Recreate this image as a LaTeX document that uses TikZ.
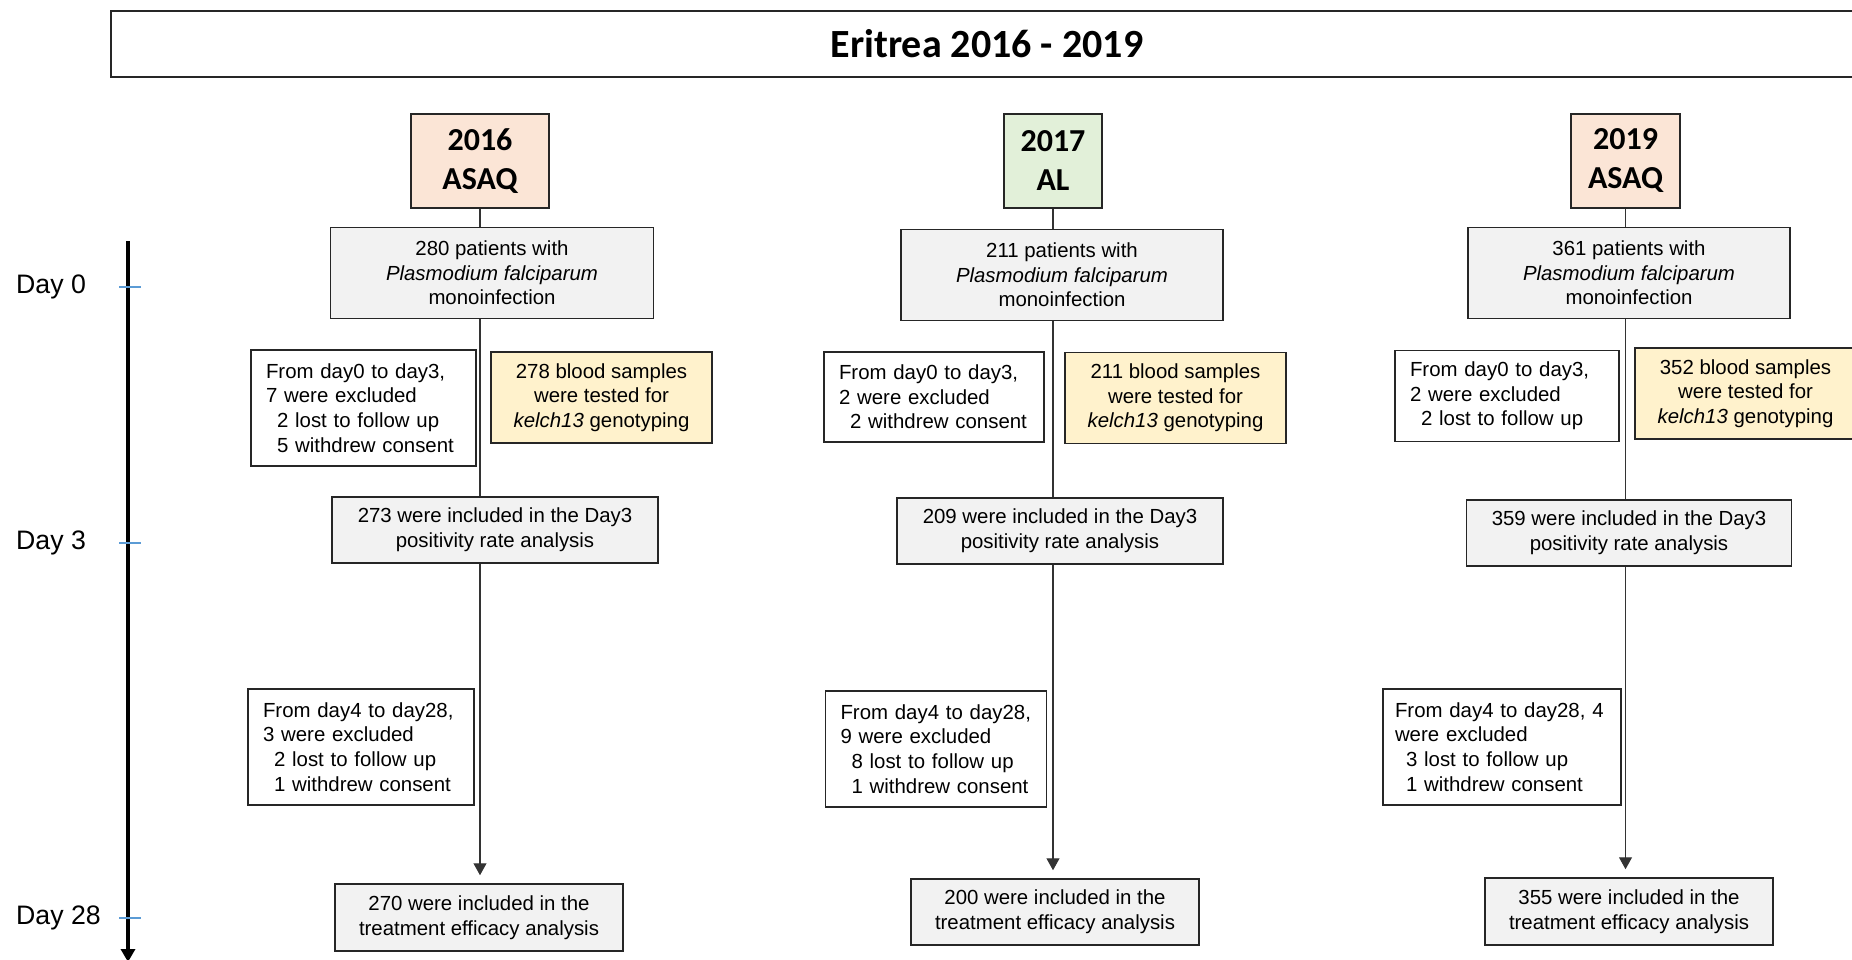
\documentclass[tikz,border=0pt]{standalone}
\usepackage{fontspec}
\setmainfont{Liberation Sans}
\newfontfamily\calibri{Carlito}
\definecolor{boxgray}{RGB}{242,242,242}
\definecolor{asaqpeach}{RGB}{251,229,214}
\definecolor{algreen}{RGB}{226,240,217}
\definecolor{kelyellow}{RGB}{255,242,204}
\definecolor{tickblue}{RGB}{91,155,213}
\newcommand{\bodyfont}{\fontsize{20.4}{24.6}\selectfont}
\newcommand{\indentsub}{\hspace*{11pt}}
\usetikzlibrary{arrows.meta}

\begin{document}
\begin{tikzpicture}[x=1pt, y=-1pt,
  titlebox/.style={draw=black!85, line width=1.6pt, inner sep=0pt, minimum width=1752pt,
                   minimum height=66pt, font=\calibri\bfseries\fontsize{40}{48}\selectfont},
  yearbox/.style={draw=black!85, line width=1.6pt, inner sep=0pt, minimum height=94pt,
                  align=center, font=\calibri\bfseries\fontsize{32}{39}\selectfont},
  countbox/.style={draw=black!85, fill=boxgray, line width=1.5pt, inner sep=0pt,
                   align=center, font=\bodyfont},
  exclbox/.style={draw=black!85, fill=white, line width=1.5pt, inner xsep=15pt, inner ysep=0pt,
                  minimum height=116pt, align=left, font=\bodyfont},
  kelbox/.style={draw=black!85, fill=kelyellow, line width=1.5pt, inner sep=0pt,
                 minimum width=221pt, minimum height=91pt, align=center, font=\bodyfont},
  flow/.style={line width=1.2pt, black!80},
  daylabel/.style={anchor=west, inner sep=0pt, font=\fontsize{26.7}{32}\selectfont},
]

% page frame
\useasboundingbox (0,0) rectangle (1852,960);
\clip (0,0) rectangle (1852,960);

% Title banner
\node[titlebox] (title) at (987,44) {Eritrea 2016 - 2019};

% Time axis with day ticks
\coordinate (axtop) at (128,241);
\coordinate (axend) at (128,962);
\draw[line width=4pt, -{Triangle[length=13pt,width=14pt]}] (axtop) -- (axend);
\draw[tickblue, line width=1.5pt] (119,287) -- (141,287);
\draw[tickblue, line width=1.5pt] (119,543) -- (141,543);
\draw[tickblue, line width=1.5pt] (119,918) -- (141,918);
\node[daylabel] (day0) at (16,287) {Day 0};
\node[daylabel] (day3) at (16,543) {Day 3};
\node[daylabel] (day28) at (16,918) {Day 28};

% 2016 column (ASAQ)
\node[yearbox, fill=asaqpeach, minimum width=138pt] (yr16) at (480,161) {2016\\ASAQ};
\node[countbox, minimum width=323pt, minimum height=91pt] (pat16) at (492,273)
     {280 patients with\\\textit{Plasmodium falciparum}\\monoinfection};
\node[exclbox, text width=195pt] (exc16) at (363.5,408)
     {From day0 to day3,\\7 were excluded\\\indentsub 2 lost to follow up\\\indentsub 5 withdrew consent};
\node[kelbox] (kel16) at (601.5,397.7) {278 blood samples\\were tested for\\\textit{kelch13} genotyping};
\node[countbox, minimum width=326pt, minimum height=66pt] (dtr16) at (495,530)
     {273 were included in the Day3\\positivity rate analysis};
\node[exclbox, text width=196pt] (exd16) at (361,747)
     {From day4 to day28,\\3 were excluded\\\indentsub 2 lost to follow up\\\indentsub 1 withdrew consent};
\node[countbox, minimum width=288pt, minimum height=67pt] (fin16) at (479,917.5)
     {270 were included in the\\treatment efficacy analysis};

\draw[flow] (yr16.south) -- (yr16.south |- pat16.north);
\draw[flow] (yr16 |- pat16.south) -- (yr16 |- dtr16.north);
\draw[flow, -{Triangle[length=12pt,width=13pt]}, shorten >=8pt] (yr16 |- dtr16.south) -- (yr16 |- fin16.north);

% 2017 column (AL)
\node[yearbox, fill=algreen, minimum width=98pt] (yr17) at (1053,161) {2017\\AL};
\node[countbox, minimum width=322pt, minimum height=91pt] (pat17) at (1062,275)
     {211 patients with\\\textit{Plasmodium falciparum}\\monoinfection};
\node[exclbox, text width=190pt, minimum height=90pt] (exc17) at (934,397)
     {From day0 to day3,\\2 were excluded\\\indentsub 2 withdrew consent};
\node[kelbox] (kel17) at (1175.5,398) {211 blood samples\\were tested for\\\textit{kelch13} genotyping};
\node[countbox, minimum width=326pt, minimum height=66pt] (dtr17) at (1060,531)
     {209 were included in the Day3\\positivity rate analysis};
\node[exclbox, text width=191pt] (exd17) at (936,749)
     {From day4 to day28,\\9 were excluded\\\indentsub 8 lost to follow up\\\indentsub 1 withdrew consent};
\node[countbox, minimum width=288pt, minimum height=66pt] (fin17) at (1055,912)
     {200 were included in the\\treatment efficacy analysis};

\draw[flow] (yr17.south) -- (yr17.south |- pat17.north);
\draw[flow] (yr17 |- pat17.south) -- (yr17 |- dtr17.north);
\draw[flow, -{Triangle[length=12pt,width=13pt]}, shorten >=8pt] (yr17 |- dtr17.south) -- (yr17 |- fin17.north);

% 2019 column (ASAQ)
\node[yearbox, fill=asaqpeach, minimum width=109pt] (yr19) at (1625.5,161) {2019\\ASAQ};
\node[countbox, minimum width=322pt, minimum height=91pt] (pat19) at (1629,273)
     {361 patients with\\\textit{Plasmodium falciparum}\\monoinfection};
\node[exclbox, text width=194pt, minimum height=91pt] (exc19) at (1507,396)
     {From day0 to day3,\\2 were excluded\\\indentsub 2 lost to follow up};
\node[kelbox] (kel19) at (1745.5,393.5) {352 blood samples\\were tested for\\\textit{kelch13} genotyping};
\node[countbox, minimum width=325pt, minimum height=66pt] (dtr19) at (1629,533)
     {359 were included in the Day3\\positivity rate analysis};
\node[exclbox, inner xsep=12pt, text width=214pt] (exd19) at (1502,747)
     {From day4 to day28, 4\\were excluded\\\indentsub 3 lost to follow up\\\indentsub 1 withdrew consent};
\node[countbox, minimum width=288pt, minimum height=67pt] (fin19) at (1629,911.5)
     {355 were included in the\\treatment efficacy analysis};

\draw[flow] (yr19.south) -- (yr19.south |- pat19.north);
\draw[flow] (yr19 |- pat19.south) -- (yr19 |- dtr19.north);
\draw[flow, -{Triangle[length=12pt,width=13pt]}, shorten >=8pt] (yr19 |- dtr19.south) -- (yr19 |- fin19.north);

\end{tikzpicture}
\end{document}
